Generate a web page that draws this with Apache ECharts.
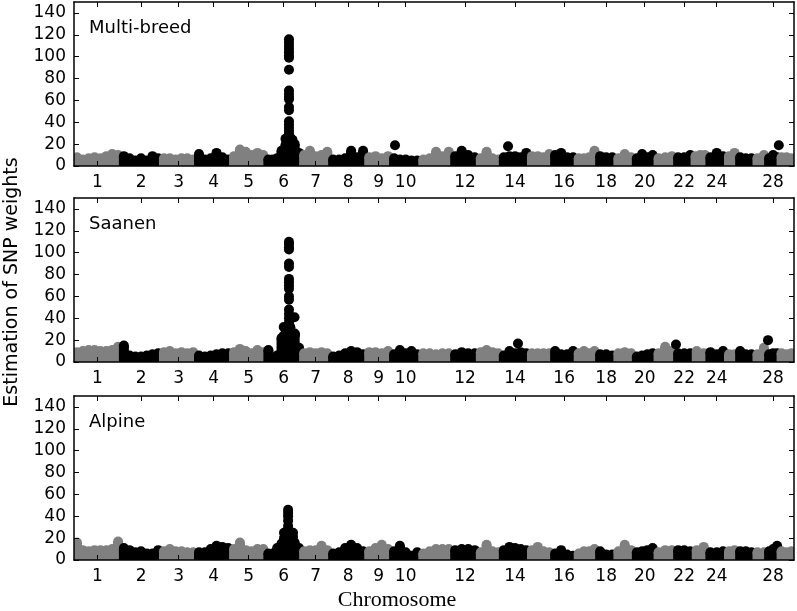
<!DOCTYPE html>
<html><head><meta charset="utf-8">
<script src="https://cdn.jsdelivr.net/npm/echarts@6/dist/echarts.min.js"></script>
<style>html,body{margin:0;padding:0;background:#fff}#chart{width:797px;height:611px}</style>
</head><body><div id="chart"></div>
<script>
// ---- data ----
const chromLengths = [161,137,120,120,120,120,99,123,86,99,109,89,79,96,79,82,72,62,65,72,68,62,48,65,38,58,44,41,51];
const tickChromosomes = [1,2,3,4,5,6,7,8,9,10,12,14,16,18,20,22,24,28];
const yTicks = [0,20,40,60,80,100,120,140];
const panelNames = ['Multi-breed','Saanen','Alpine'];

// per-chromosome SNP weights (evenly spread along each chromosome)
const multiBreedBase = [
  [8,6,7,8,7,9,11,10],[9,7,5,7,5,9,7],[7,7,6,7,7,6],[11,6,7,12,8,6],[9,15,13,10,12,10],
  [6,6,7,14,20,26,20,12],[10,14,9,10,13],[6,6,7,14,8,14],[8,9,7,9],[7,6,6,5,5],
  [6,7,13,9,13],[9,14,10,8],[7,13,7,6],[8,9,9,8,12],[9,9,8,11],[10,12,8,8],[7,7,8,14],
  [9,8,8],[7,11,8],[7,11,8,10],[7,8,9],[8,8,10],[9,10,10],[8,12,9],[9,12],[8,7,7],[7,10],[7,10,8],[8,8,7]
];
const saanenBase = [
  [9,10,11,11,10,10,11,14],[15,6,5,5,6,7,8],[9,10,8,9,8,9],[6,5,6,7,8,8],[9,12,10,8,11,9],
  [11,4,6,22,30,32,26,13],[8,9,8,9,8],[5,6,8,10,9,7],[9,9,8,10],[7,11,8,10,7],
  [8,8,7,8,8],[7,9,8,8],[9,11,9,8],[6,10,8,9,8],[8,8,8,8],[10,7,7,10],[8,10,8,10],
  [7,7,6],[8,9,8],[5,6,7,8],[8,14,10],[8,8,8],[10,8],[9,7,10],[7,7],[10,7,7],[7,13],[7,8,8],[8,7,8]
];
const alpineBase = [
  [16,9,8,9,9,9,10,17],[11,9,7,8,6,6,9],[8,10,8,8,7,7],[7,7,10,13,12,11],[10,16,9,8,10,10],
  [6,6,11,15,21,23,16,11],[8,9,9,13,9],[6,7,11,14,11,8],[8,11,14,10],[8,13,7,4,7],
  [6,8,10,10,10],[9,10,10,9],[7,14,8,7],[9,12,11,10,9],[9,12,8,7],[6,9,5,4],[6,8,8,10],
  [8,5,5],[8,14,9],[7,8,9,11],[7,9,9],[9,9,8],[9,12],[7,7,8],[8,9],[8,8,7],[7,7],[8,10,13],[8,7,8]
];
// isolated / peak SNPs: [chromosome, position (Mb), weight]
const multiBreedHits = [
  [6,78,116],[6,78,113],[6,78,110],[6,78,107],[6,78,104],[6,78,101],[6,78,99],[6,78,88],
  [6,78,69],[6,78,66],[6,78,63],[6,78,61],[6,78,54],[6,78,51],[6,78,41],[6,78,38],
  [6,78,35],[6,78,32],[6,78,29],[6,78,26],[6,78,23],
  [6,66,25],[6,66,19],[6,90,24],[6,90,18],
  [10,13,19],[14,24,18],[28,40,19]
];
const saanenHits = [
  [6,78,110],[6,78,108],[6,78,105],[6,78,103],[6,78,90],[6,78,87],[6,78,76],[6,78,73],
  [6,78,70],[6,78,67],[6,78,60],[6,78,57],[6,78,48],[6,78,44],[6,78,40],[6,78,36],
  [6,78,32],[6,78,29],[6,78,26],
  [6,97,41],[6,99,25],[6,60,32],[6,60,24],
  [14,58,17],[22,3,16],[28,3,20]
];
const alpineHits = [
  [6,75,46],[6,75,43],[6,75,40],[6,75,36],[6,75,31],[6,75,28],
  [6,61,25],[6,61,20],[6,92,25],[6,92,21]
];

// ---- build ----
const GRAY = '#808080', BLACK = '#000000';
const offsets = []; let acc = 0;
chromLengths.forEach(l => { offsets.push(acc); acc += l; });
const genomeLength = acc;
const centers = chromLengths.map((l, i) => offsets[i] + l / 2);
const tickValues = tickChromosomes.map(c => centers[c - 1]);
function labelFor(v) {
  for (let i = 0; i < tickValues.length; i++) if (Math.abs(tickValues[i] - v) < 1e-6) return String(tickChromosomes[i]);
  return '';
}
function baseData(base) {
  const out = [];
  base.forEach((vals, ci) => {
    const n = vals.length, len = chromLengths[ci];
    vals.forEach((v, j) => out.push([offsets[ci] + (j + 0.5) * len / n, v, ci]));
  });
  return out;
}
function hitData(hits) { return hits.map(h => [offsets[h[0] - 1] + h[1], h[2], h[0] - 1]); }
const colorOf = ci => (ci % 2 === 0 ? GRAY : BLACK);
const R = 5;
function renderPin(params, api) {
  const x = api.value(0), y = api.value(1), ci = api.value(2);
  const top = api.coord([x, y]);
  const base = api.coord([x, 0]);
  const color = colorOf(ci);
  return { type: 'group', children: [
    { type: 'rect', shape: { x: top[0] - R, y: top[1], width: 2 * R, height: base[1] - top[1] }, style: { fill: color } },
    { type: 'circle', shape: { cx: top[0], cy: top[1], r: R }, style: { fill: color } }
  ]};
}

const tops = [2, 198, 396];
const bases = [multiBreedBase, saanenBase, alpineBase];
const hits = [multiBreedHits, saanenHits, alpineHits];
const FONT = 'DejaVu Sans';
const grid = [], xAxis = [], yAxis = [], series = [], graphic = [];
tops.forEach((t, p) => {
  grid.push({ left: 74, width: 720, top: t, height: 164 });
  const axLine = { show: true, onZero: false, lineStyle: { color: '#000', width: 1.5 } };
  ['bottom', 'top'].forEach((pos, k) => {
    xAxis.push({ type: 'value', gridIndex: p, position: pos, min: 0, max: genomeLength, z: 5,
      axisLine: axLine,
      axisTick: { show: true, inside: true, length: 5, customValues: tickValues, lineStyle: { color: '#000', width: 1 } },
      axisLabel: { show: k === 0, customValues: tickValues, margin: 8, fontSize: 17, color: '#000', fontFamily: FONT, formatter: labelFor },
      splitLine: { show: false } });
  });
  ['left', 'right'].forEach((pos, k) => {
    yAxis.push({ type: 'value', gridIndex: p, position: pos, min: 0, max: 150, z: 5,
      axisLine: axLine,
      axisTick: { show: true, inside: true, length: 5, customValues: yTicks, lineStyle: { color: '#000', width: 1 } },
      axisLabel: { show: k === 0, customValues: yTicks, margin: 8, fontSize: 17, color: '#000', fontFamily: FONT },
      splitLine: { show: false } });
  });
  series.push({ type: 'custom', xAxisIndex: 2 * p, yAxisIndex: 2 * p, data: baseData(bases[p]),
    renderItem: renderPin, clip: true, silent: true, z: 2, encode: { x: 0, y: 1 } });
  series.push({ type: 'scatter', xAxisIndex: 2 * p, yAxisIndex: 2 * p, data: hitData(hits[p]),
    symbolSize: 10, silent: true, z: 3, itemStyle: { opacity: 1, color: params => colorOf(params.data[2]) } });
  graphic.push({ type: 'text', left: 89, top: t + 17, style: { text: panelNames[p], fontSize: 18, fontFamily: FONT, fill: '#000' } });
});
graphic.push({ type: 'text', x: 12, y: 282, rotation: Math.PI / 2,
  style: { text: 'Estimation of SNP weights', fontSize: 19, fontFamily: FONT, fill: '#000', align: 'center', verticalAlign: 'middle' } });
graphic.push({ type: 'text', x: 397, y: 600,
  style: { text: 'Chromosome', fontSize: 22, fontFamily: 'Liberation Serif', fill: '#000', align: 'center', verticalAlign: 'middle' } });

const chart = echarts.init(document.getElementById('chart'), null, { renderer: 'canvas' });
chart.setOption({ animation: false, backgroundColor: '#fff', grid, xAxis, yAxis, series, graphic });
</script></body></html>
